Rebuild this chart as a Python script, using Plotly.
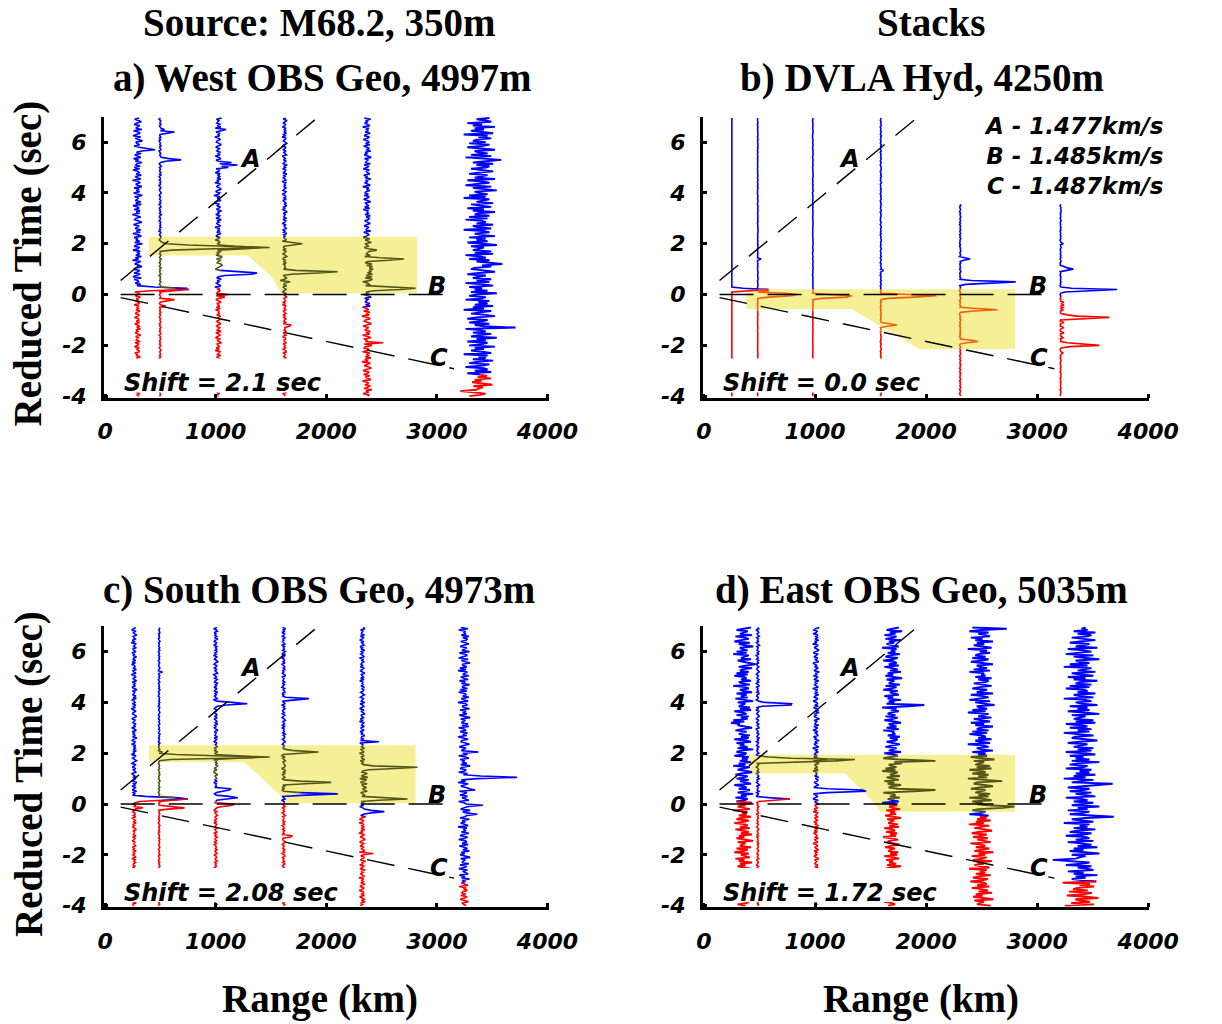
import numpy as np
import plotly.graph_objects as go

# ---------------- data ----------------
T_TOP, T_BOT, DT = 6.95, -4.0, 0.05

# hand-typed noise pattern (reused with different offsets / scales)
NOISE = [3,-5,2,7,-1,-6,4,0,-3,8,-7,1,5,-2,-8,6,-4,2,9,-3,
         -1,4,-6,3,-9,5,1,-2,7,-5,0,6,-7,2,-4,8,-1,-3,5,-6,
         4,-8,1,3,-2,7,-4,-1,6,-9,2,5,-3,0,8,-6,3,-2,4,-7,
         1,9,-5,2,-1,-4,6,-3,7,-8,0,3,-6,5,-2,4,-9,1,6,-3,
         -5,2,8,-1,-7,3,0,-4,6,-2,5,-8,2,7,-6,1,-3,4,-5,9,
         -2,-6,3,1,-8,5,-1,4,-3,7,-4,2,-9,6,0,-5,3,8,-2,-7,
         4,1,-6,5,-3,2,7,-8,0,3,-4,6,-1,-5,9,-2,3,-7,4,1,
         -6,8,-3,2,-5,0,6,-9,4,-1,3,-4,7,-2,-6,5,1,-8,2,4,
         -3,6,-7,0,5,-2,8,-4,1,-6,3,9,-5,2,-1,-3,7,-6,4,0,
         -8,5,-2,3,6,-7,1,-4,8,-3,2,-5,0,7,-9,4,-1,6,-2,-4,
         3,-6,5,1,-7,2,8,-3,-1,4,-5,6,-8,2,0,3,-4,7,-2,5]

TICKS_X = [0, 1000, 2000, 3000, 4000]
TICKS_Y = [-4, -2, 0, 2, 4, 6]

# reference lines (range, reduced time)
LINE_A_X = [140, 1930]
LINE_A_T = [0.55, 7.0]
LINE_B_X = [140, 3155]
LINE_B_T = [0.0, 0.0]
LINE_C_X = [140, 3155]
LINE_C_T = [-0.12, -2.92]

# ---- panel a
A_POS = [292, 497, 1023, 1623, 2368, 3392]
A_START = [6.95, 6.95, 6.95, 6.95, 6.95, 6.95]
A_SWITCH = [0.3, 0.25, 0.3, 0.05, -0.45, -3.1]
A_NB = [45, 10, 30, 22, 38, 150]
A_NR = [30, 8, 28, 18, 45, 110]
A_OFF = [0, 23, 61, 97, 140, 181]
A_DARK = [None, (0.3, 2.28), (1.0, 2.28), (0.05, 2.28), (-0.05, 2.28), None]
A_EVENTS = [
    [(5.75, 90), (5.7, 160), (5.65, 40), (0.7, -40), (0.6, -30), (0.3, 150), (0.25, 450), (0.2, 420), (0.15, 120)],
    [(6.5, 40), (6.4, 130), (6.35, 40), (5.35, 80), (5.3, 190), (5.25, 50), (2.05, 20), (2.0, 60), (1.95, 250),
     (1.9, 600), (1.85, 990), (1.8, 500), (1.75, 100), (0.25, 150), (0.2, 260), (0.15, 120), (-0.2, 130), (-0.25, 60), (-0.45, 50)],
    [(6.5, 70), (5.2, 120), (5.1, 175), (5.0, 90), (3.9, -40), (3.6, -30), (1.9, 150), (1.85, 380), (1.8, 250),
     (1.5, 30), (1.35, 25), (1.15, 35), (0.9, 200), (0.85, 350), (0.8, 300), (0.75, 60), (0.0, 90), (-0.1, 60)],
    [(2.05, 60), (2.0, 160), (1.95, 80), (1.6, -15), (1.4, -15), (1.2, -10), (0.95, 100), (0.9, 480), (0.85, 300),
     (0.8, 60), (0.57, -40), (0.52, 50), (-1.2, 60), (-1.25, 40)],
    [(1.75, 90), (1.45, 120), (1.4, 335), (1.35, 200), (1.2, 45), (1.1, 50), (1.0, 55), (0.9, 40), (0.8, 50),
     (0.7, 45), (0.6, 50), (0.3, 200), (0.25, 440), (0.2, 300), (0.15, 60), (-1.9, 146)],
    [(5.3, 190), (1.2, 200), (-1.3, 320), (-3.8, -180)],
]
A_YX = [395, 2820, 2820, 1594, 1506, 1287, 395]
A_YT = [2.28, 2.28, 0.05, 0.05, 0.70, 1.54, 1.54]

# ---- panel b
B_POS = [251, 484, 980, 1592, 2307, 3211]
B_START = [6.95, 6.95, 6.95, 6.95, 3.55, 3.55]
B_SWITCH = [0.25, 0.2, 0.2, 0.15, 0.3, -0.08]
B_NB = [0, 3, 3, 6, 6, 5]
B_NR = [0, 2, 2, 5, 6, 5]
B_OFF = [5, 44, 88, 120, 160, 200]
B_DARK = [None, (-0.6, 0.2), (-0.6, 0.2), (-1.5, 0.2), (-2.1, 0.2), None]
B_EVENTS = [
    [(0.25, 100), (0.2, 330), (0.15, 150)],
    [(1.4, 30), (0.15, 100), (0.05, 250), (0.0, 350), (-0.05, 300), (-0.1, 100)],
    [(0.0, 150), (-0.05, 350), (-0.1, 300), (-0.15, 80)],
    [(0.95, 25), (0.0, 250), (-0.05, 500), (-0.1, 300), (-0.15, 60), (-1.15, 80), (-1.2, 145), (-1.25, 60)],
    [(1.45, 40), (1.4, 90), (1.35, 30), (0.55, 100), (0.5, 500), (0.45, 300), (0.4, 50), (-0.55, 150),
     (-0.6, 335), (-0.65, 120), (-1.8, 100), (-1.85, 160), (-1.9, 60)],
    [(2.0, 25), (1.1, 30), (1.05, 60), (1.0, 115), (0.95, 40), (0.25, 100), (0.2, 510), (0.15, 250), (0.1, 40),
     (-0.3, 30), (-0.4, 30), (-0.5, 30), (-0.6, 25), (-0.8, 60), (-0.85, 150), (-0.9, 440), (-0.95, 150),
     (-1.1, 30), (-1.3, 30), (-1.5, 30), (-1.7, 25), (-1.9, 60), (-1.95, 200), (-2.0, 350), (-2.05, 80), (-2.3, 20)],
]
B_YX = [382, 2802, 2802, 1942, 1330, 382]
B_YT = [0.21, 0.21, -2.15, -2.15, -0.57, -0.57]

# ---- panel c
C_POS = [262, 488, 1000, 1614, 2325, 3246]
C_START = [6.95, 6.95, 6.95, 6.95, 6.95, 6.95]
C_SWITCH = [0.2, 0.25, 0.15, 0.1, -0.45, -3.05]
C_NB = [25, 8, 20, 18, 25, 55]
C_NR = [20, 8, 15, 15, 30, 45]
C_OFF = [12, 50, 90, 133, 170, 210]
C_DARK = [None, (0.3, 2.31), (1.0, 2.31), (0.5, 2.31), (0.0, 2.31), None]
C_EVENTS = [
    [(0.3, 100), (0.25, 350), (0.2, 480), (0.15, 250), (0.1, 50), (-0.15, 80)],
    [(5.2, 30), (2.05, 30), (1.95, 150), (1.9, 500), (1.85, 1000), (1.8, 600), (1.75, 100), (0.25, 150),
     (0.2, 260), (0.15, 100), (-0.1, 150), (-0.15, 230), (-0.2, 80)],
    [(3.98, 150), (3.93, 285), (3.88, 100), (1.9, 200), (1.85, 420), (1.8, 200), (1.5, 20), (1.3, -15),
     (0.6, 140), (0.55, 120), (0.5, 60), (0.3, 120), (0.25, 200), (0.2, 100), (0.0, 170), (-0.05, 150), (-0.1, 60)],
    [(4.13, 230), (4.08, 80), (2.1, 100), (2.05, 315), (2.0, 100), (1.7, 15), (1.5, 15), (1.3, 15), (0.9, 150),
     (0.87, 430), (0.82, 200), (0.45, 150), (0.4, 490), (0.35, 200), (-1.25, 80), (-1.3, 60)],
    [(2.43, 150), (1.5, 100), (1.45, 500), (1.4, 300), (1.35, 60), (1.2, 45), (1.05, 50), (0.95, 40), (0.8, 45),
     (0.65, 40), (0.5, 45), (0.25, 200), (0.2, 410), (0.15, 150), (-0.25, 80), (-0.3, 200), (-0.35, 80), (-1.95, 100)],
    [(2.05, 130), (1.1, 150), (1.05, 480), (1.0, 120), (0.55, 100), (-0.05, 170), (-0.4, 120)],
]
C_YX = [395, 2807, 2807, 1637, 1550, 1257, 395]
C_YT = [2.31, 2.31, 0.03, 0.03, 0.48, 1.65, 1.65]

# ---- panel d
D_POS = [353, 484, 1009, 1694, 2496, 3400]
D_START = [6.95, 6.95, 6.95, 6.95, 6.95, 6.95]
D_SWITCH = [0.15, 0.25, 0.1, 0.0, -0.45, -3.0]
D_NB = [90, 15, 30, 90, 120, 160]
D_NR = [90, 10, 25, 80, 110, 170]
D_OFF = [3, 47, 99, 131, 177, 213]
D_DARK = [None, (1.2, 1.94), (1.2, 1.94), (0.2, 1.94), (-0.3, 1.94), None]
D_EVENTS = [
    [(5.5, 110), (3.2, -110)],
    [(3.98, 60), (3.93, 305), (3.88, 300), (3.83, 40), (1.85, 100), (1.8, 300), (1.75, 875), (1.7, 700),
     (1.65, 200), (0.25, 100), (0.2, 290), (0.15, 150)],
    [(1.75, 100), (0.6, 100), (0.55, 420), (0.5, 450), (0.45, 100)],
    [(3.9, 290), (3.85, 150), (1.7, 390), (0.55, 390), (0.5, 200)],
    [(6.9, 230), (0.9, 190), (-0.1, 300), (-0.15, 200)],
    [(0.8, 280), (-0.5, 290), (-2.2, -260)],
]
D_YX = [395, 2802, 2802, 1592, 1476, 1272, 395]
D_YT = [1.94, 1.94, -0.30, -0.30, 0.29, 1.20, 1.20]

TITLE_TOP = ["Source: M68.2, 350m", "Stacks"]
PANEL_TITLES = ["a) West OBS Geo, 4997m", "b) DVLA Hyd, 4250m",
                "c) South OBS Geo, 4973m", "d) East OBS Geo, 5035m"]
SHIFTS = ["Shift = 2.1 sec", "Shift = 0.0 sec", "Shift = 2.08 sec", "Shift = 1.72 sec"]
VELOCITIES = ["A - 1.477km/s", "B - 1.485km/s", "C - 1.487km/s"]

# ---------------- styling ----------------
BLUE, RED = "#0000ff", "#ff0000"
OLIVE, ORANGE = "#55551a", "#f06010"
YELLOW = "#f5f096"
SERIF = "Liberation Serif"
SANS = "DejaVu Sans"

W, H = 1222, 1024
# panel pixel boxes (left, right, top, bottom)
BOXES = [(100, 558, 118, 402), (717, 1177, 118, 402),
         (100, 558, 633, 917), (717, 1177, 633, 917)]
# white backing behind the "Shift" labels (range extent, time extent)
SHIFT_BG_X = [[130, 2010], [130, 2010], [130, 2150], [130, 2150]]
SHIFT_BG_T = [-2.52, -3.86]


def px_x(px):
    return px / W


def px_y(py):
    return 1 - py / H


fig = go.Figure()

TIMES = np.round(np.arange(T_TOP, T_BOT - 1e-9, -DT), 4)
NN = len(NOISE)


def trace_segments(pos, start, sw, nb, nr, off, dark, events, darkcol):
    amps = np.array([NOISE[(k + off) % NN] / 9.0 * (nb if TIMES[k] >= sw else nr)
                     for k in range(len(TIMES))])
    for t, a in events:
        k = int(np.argmin(np.abs(TIMES - t)))
        amps[k] = a
    keep = TIMES <= start + 1e-9
    ts, av = TIMES[keep], amps[keep]
    cols = []
    for t in ts:
        if dark is not None and dark[0] <= t <= dark[1]:
            cols.append(darkcol)
        elif t >= sw:
            cols.append(BLUE)
        else:
            cols.append(RED)
    segs = []
    i = 0
    while i < len(ts):
        j = i
        while j + 1 < len(ts) and cols[j + 1] == cols[i]:
            j += 1
        end = min(j + 2, len(ts))
        segs.append((pos + av[i:end], ts[i:end], cols[i]))
        i = j + 1
    return segs


PANELS = [
    (A_POS, A_START, A_SWITCH, A_NB, A_NR, A_OFF, A_DARK, A_EVENTS, A_YX, A_YT, OLIVE),
    (B_POS, B_START, B_SWITCH, B_NB, B_NR, B_OFF, B_DARK, B_EVENTS, B_YX, B_YT, ORANGE),
    (C_POS, C_START, C_SWITCH, C_NB, C_NR, C_OFF, C_DARK, C_EVENTS, C_YX, C_YT, OLIVE),
    (D_POS, D_START, D_SWITCH, D_NB, D_NR, D_OFF, D_DARK, D_EVENTS, D_YX, D_YT, OLIVE),
]

for p, (pos, st, sw, nb, nr, off, dk, ev, yx, yt, dcol) in enumerate(PANELS):
    xa = "x" if p == 0 else f"x{p+1}"
    ya = "y" if p == 0 else f"y{p+1}"
    fig.add_trace(go.Scatter(x=yx, y=yt, fill="toself", fillcolor=YELLOW, mode="lines",
                             line=dict(width=0, color=YELLOW), xaxis=xa, yaxis=ya,
                             showlegend=False, hoverinfo="skip"))
    for i in range(len(pos)):
        lw = 1.9 if max(nb[i], nr[i]) >= 80 else 1.6
        for sx, sy, col in trace_segments(pos[i], st[i], sw[i], nb[i], nr[i], off[i], dk[i], ev[i], dcol):
            fig.add_trace(go.Scatter(x=sx, y=sy, mode="lines", line=dict(color=col, width=lw),
                                     xaxis=xa, yaxis=ya, showlegend=False, hoverinfo="skip"))
    bx0, bx1 = SHIFT_BG_X[p]
    bt0, bt1 = SHIFT_BG_T
    fig.add_trace(go.Scatter(x=[bx0, bx1, bx1, bx0, bx0], y=[bt0, bt0, bt1, bt1, bt0], fill="toself",
                             fillcolor="white", mode="lines", line=dict(width=0, color="white"),
                             xaxis=xa, yaxis=ya, showlegend=False, hoverinfo="skip"))
    for lx, lt, dash in [(LINE_A_X, LINE_A_T, "24px,14px"), (LINE_B_X, LINE_B_T, "34px,14px"),
                         (LINE_C_X, LINE_C_T, "28px,14px")]:
        fig.add_trace(go.Scatter(x=lx, y=lt, mode="lines", line=dict(color="black", width=1.4, dash=dash),
                                 xaxis=xa, yaxis=ya, showlegend=False, hoverinfo="skip"))

tickfont = dict(family=SANS, size=22, color="black", weight="bold", style="italic")
for p, (l, r, t, b) in enumerate(BOXES):
    xk = "xaxis" if p == 0 else f"xaxis{p+1}"
    yk = "yaxis" if p == 0 else f"yaxis{p+1}"
    ya = "y" if p == 0 else f"y{p+1}"
    xa = "x" if p == 0 else f"x{p+1}"
    fig.layout[xk] = dict(domain=[px_x(l), px_x(r)], range=[-10, 4010], anchor=ya,
                          showline=True, linewidth=3, linecolor="black", mirror=False,
                          ticks="inside", ticklen=4, tickwidth=3, tickcolor="black",
                          tickvals=TICKS_X, ticktext=[str(v) for v in TICKS_X],
                          tickfont=tickfont, showgrid=False, zeroline=False, ticklabelstandoff=12)
    fig.layout[yk] = dict(domain=[px_y(b), px_y(t)], range=[-4.06, 7.0], anchor=xa,
                          showline=True, linewidth=3, linecolor="black", mirror=False,
                          ticks="inside", ticklen=4, tickwidth=3, tickcolor="black",
                          tickvals=TICKS_Y, ticktext=[str(v) for v in TICKS_Y],
                          tickfont=tickfont, showgrid=False, zeroline=False, ticklabelstandoff=10)

ann = []
labfont = dict(family=SANS, size=24, color="black", weight="bold", style="italic")
for p in range(4):
    xa = "x" if p == 0 else f"x{p+1}"
    ya = "y" if p == 0 else f"y{p+1}"
    ann.append(dict(x=1310, y=5.35, xref=xa, yref=ya, text="A", showarrow=False, font=labfont))
    ann.append(dict(x=3005, y=0.34, xref=xa, yref=ya, text="B", showarrow=False, font=labfont))
    ann.append(dict(x=3020, y=-2.5, xref=xa, yref=ya, text="C", showarrow=False, font=labfont))
    ann.append(dict(x=155, y=-3.5, xref=xa, yref=ya, text=SHIFTS[p], showarrow=False, xanchor="left",
                    font=labfont))
ann.append(dict(x=3900, y=5.45, xref="x2", yref="y2", xshift=28, text="<br>".join(VELOCITIES),
                showarrow=False, xanchor="right", yanchor="middle", align="right",
                font=dict(family=SANS, size=23, color="black", weight="bold", style="italic")))

serif = dict(family=SERIF, size=39, color="black", weight="bold")
for txt, cx, cy in [(TITLE_TOP[0], 321, 23), (TITLE_TOP[1], 952, 23),
                    (PANEL_TITLES[0], 325, 79), (PANEL_TITLES[1], 943, 79),
                    (PANEL_TITLES[2], 321, 596), (PANEL_TITLES[3], 942, 596),
                    ("Range (km)", 323, 1010), ("Range (km)", 942, 1010)]:
    ann.append(dict(x=px_x(cx), y=px_y(cy), xref="paper", yref="paper", text=txt, showarrow=False,
                    xanchor="center", yanchor="middle", font=serif))
for cy in [266, 782]:
    ann.append(dict(x=px_x(22), y=px_y(cy), xref="paper", yref="paper", text="Reduced Time (sec)",
                    showarrow=False, textangle=-90, xanchor="center", yanchor="middle", font=serif))

fig.update_layout(width=W, height=H, margin=dict(l=0, r=0, t=0, b=0),
                  paper_bgcolor="white", plot_bgcolor="white", annotations=ann, showlegend=False)

fig.write_html("out.html", config={"displayModeBar": False},
               post_script="document.body.style.margin='0';document.body.style.overflow='hidden';")
